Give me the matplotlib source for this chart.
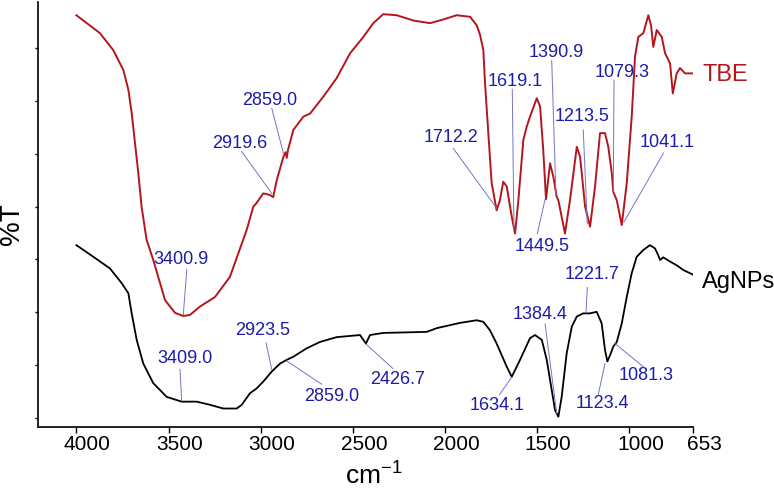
import numpy as np
import matplotlib
matplotlib.use('Agg')
import matplotlib.pyplot as plt
import matplotlib.transforms as mtransforms

plt.rcParams['font.family'] = ['Liberation Sans', 'DejaVu Sans']
plt.rcParams['mathtext.fontset'] = 'custom'
plt.rcParams['mathtext.rm'] = 'Liberation Sans'
plt.rcParams['mathtext.it'] = 'Liberation Sans:italic'

# TBE spectrum (wavenumber cm-1, %T arbitrary units)
tbe_wn = [4000, 3872, 3800, 3745, 3718, 3700, 3682, 3664, 3646, 3619, 3583, 3519,
          3465, 3420, 3384, 3329, 3248, 3167, 3076, 3040, 3022, 2986, 2950, 2932,
          2913, 2877, 2865, 2859, 2852, 2823, 2769, 2732, 2660, 2588, 2515, 2443,
          2389, 2335, 2262, 2172, 2081, 2009, 1937, 1864, 1828, 1810, 1792, 1783,
          1765, 1747, 1720, 1702, 1684, 1665, 1638, 1620, 1602, 1575, 1557, 1539,
          1502, 1484, 1467, 1452, 1430, 1412, 1394, 1385, 1349, 1322, 1285, 1267,
          1240, 1213, 1186, 1159, 1132, 1114, 1095, 1087, 1068, 1041, 1014, 987,
          969, 951, 924, 897, 882, 870, 851, 824, 806, 779, 764, 743, 725, 698, 653]
tbe_t = [76.2, 72.8, 69.6, 65.8, 62.1, 57.7, 52.0, 46.3, 39.9, 33.7, 29.9, 22.3,
         19.9, 19.3, 19.5, 21.1, 22.9, 26.7, 35.6, 40.0, 40.7, 42.5, 42.2, 41.8,
         45.0, 49.4, 50.3, 49.2, 50.7, 54.5, 57.0, 57.6, 60.8, 64.3, 69.0, 72.1,
         74.7, 76.4, 76.2, 75.2, 74.7, 75.4, 76.2, 75.9, 74.3, 72.5, 69.6, 63.4,
         53.9, 44.5, 39.3, 41.2, 44.7, 43.8, 38.1, 34.9, 41.2, 52.6, 55.1, 57.0,
         60.5, 58.9, 50.7, 41.4, 48.2, 45.6, 41.9, 41.2, 34.9, 41.2, 51.3, 49.4,
         40.0, 36.2, 43.8, 53.9, 53.9, 51.3, 46.3, 42.8, 41.2, 36.5, 44.4, 57.0,
         68.4, 72.1, 72.8, 76.2, 74.3, 70.2, 73.4, 72.1, 69.0, 67.1, 61.4, 65.2,
         66.2, 65.2, 65.2]

# AgNPs spectrum
ag_wn = [4000, 3908, 3818, 3754, 3718, 3700, 3673, 3637, 3583, 3510, 3429, 3347,
         3275, 3203, 3130, 3103, 3058, 3022, 2986, 2940, 2895, 2859, 2823, 2750,
         2678, 2588, 2461, 2429, 2407, 2335, 2099, 2045, 1919, 1828, 1792, 1756,
         1720, 1665, 1638, 1593, 1539, 1512, 1475, 1448, 1421, 1403, 1385, 1367,
         1340, 1312, 1285, 1250, 1213, 1177, 1150, 1132, 1119, 1101, 1087, 1068,
         1041, 1014, 987, 960, 924, 888, 861, 843, 833, 816, 779, 743, 707, 653]
ag_t = [32.7, 30.5, 28.3, 25.5, 23.6, 19.8, 14.8, 10.3, 6.6, 4.0, 3.1, 3.1,
        2.5, 1.8, 1.8, 2.5, 4.7, 5.6, 6.9, 8.8, 10.3, 11.0, 11.6, 13.2,
        14.4, 15.3, 15.7, 14.1, 15.7, 16.1, 16.3, 17.0, 18.0, 18.5, 18.2, 16.6,
        14.1, 9.7, 7.8, 11.0, 15.1, 15.7, 14.8, 11.0, 5.3, 1.5, 0.25, 4.0,
        12.2, 17.3, 19.2, 19.8, 19.8, 20.1, 17.9, 12.9, 10.7, 12.2, 13.5, 14.4,
        17.9, 22.9, 27.4, 30.5, 31.8, 32.7, 32.1, 30.8, 29.9, 30.4, 29.6, 28.9,
        28.0, 27.1]

xtick_vals = [4000, 3500, 3000, 2500, 2000, 1500, 1000, 653]

# peak labels: text, text position, leader line from -> to
tbe_peaks = [
    ('3400.9', (3431, 29.9), (3401, 28.1), (3420, 19.5)),
    ('2919.6', (3112, 51.9), (3103, 50.4), (2940, 42.5)),
    ('2859.0', (2950, 60.0), (2940, 58.6), (2877, 50.1)),
    ('1712.2', (1968, 53.0), (1955, 51.0), (1720, 39.7)),
    ('1619.1', (1617, 63.6), (1635, 62.2), (1626, 35.6)),
    ('1390.9', (1394, 69.1), (1421, 67.6), (1398, 41.9)),
    ('1213.5', (1256, 57.1), (1250, 54.5), (1228, 36.8)),
    ('1079.3', (1041, 65.3), (1083, 63.9), (1087, 42.8)),
    ('1041.1', (795, 52.1), (815, 50.1), (1029, 37.1)),
    ('1449.5', (1475, 32.5), (1499, 34.9), (1457, 41.4)),
]
ag_peaks = [
    ('3409.0', (3412, 11.3), (3438, 9.2), (3429, 3.3)),
    ('2923.5', (2990, 16.5), (2971, 14.2), (2940, 9.2)),
    ('2859.0', (2615, 4.1), (2669, 6.4), (2859, 10.8)),
    ('2426.7', (2256, 7.2), (2284, 9.4), (2429, 14.0)),
    ('1634.1', (1715, 2.3), (1705, 4.4), (1638, 7.7)),
    ('1384.4', (1483, 19.5), (1457, 17.8), (1394, 0.9)),
    ('1221.7', (1201, 27.1), (1228, 24.7), (1235, 19.9)),
    ('1123.4', (1147, 2.7), (1168, 4.5), (1132, 10.3)),
    ('1081.3', (909, 8.1), (924, 9.7), (1078, 14.1)),
]

red = '#b3161c'
blue = '#1c1caa'
lead = '#7474c4'

fig = plt.figure(figsize=(7.74, 4.91), dpi=100)
ax = fig.add_axes([0.0487, 0.1303, 0.8470, 0.8656])

ax.plot(tbe_wn, tbe_t, color=red, lw=1.4, solid_joinstyle='round')
ax.plot(ag_wn, ag_t, color='black', lw=1.3, solid_joinstyle='round')

for lab, txy, p0, p1 in tbe_peaks + ag_peaks:
    ax.plot([p0[0], p1[0]], [p0[1], p1[1]], color=lead, lw=0.7)
    ax.text(txy[0], txy[1], lab, color=blue, fontsize=13, ha='center', va='center')

ax.text(605, 64.9, 'TBE', color=red, fontsize=17, ha='left', va='center')
ax.text(605, 25.7, 'AgNPs', color='black', fontsize=17, ha='left', va='center')

ax.set_xlim(4210, 653)
ax.set_ylim(-1.7, 78.7)
ax.set_xticks(xtick_vals)
ax.set_xticklabels([str(v) for v in xtick_vals])
ax.set_yticks(np.arange(0, 80, 10))
ax.set_yticklabels([])

for s in ['top', 'right']:
    ax.spines[s].set_visible(False)
ax.spines['left'].set_linewidth(1.2)
ax.spines['bottom'].set_linewidth(1.4)
ax.spines['bottom'].set_color('#222222')
ax.tick_params(axis='x', direction='out', length=4, width=1, labelsize=15, pad=1.5)
ax.tick_params(axis='y', direction='out', length=2.5, width=1)

# tick labels sit a bit right of their ticks
shift = mtransforms.ScaledTranslation(0.11, 0, fig.dpi_scale_trans)
for lbl in ax.get_xticklabels():
    lbl.set_transform(lbl.get_transform() + shift)

fig.text(12 / 774, 1 - 224 / 491, '%T', rotation=90, ha='center', va='center', fontsize=20)
fig.text(374 / 774, 1 - 485 / 491, 'cm$^{-1}$', ha='center', va='baseline', fontsize=19)

fig.savefig('out.png', dpi=100)
